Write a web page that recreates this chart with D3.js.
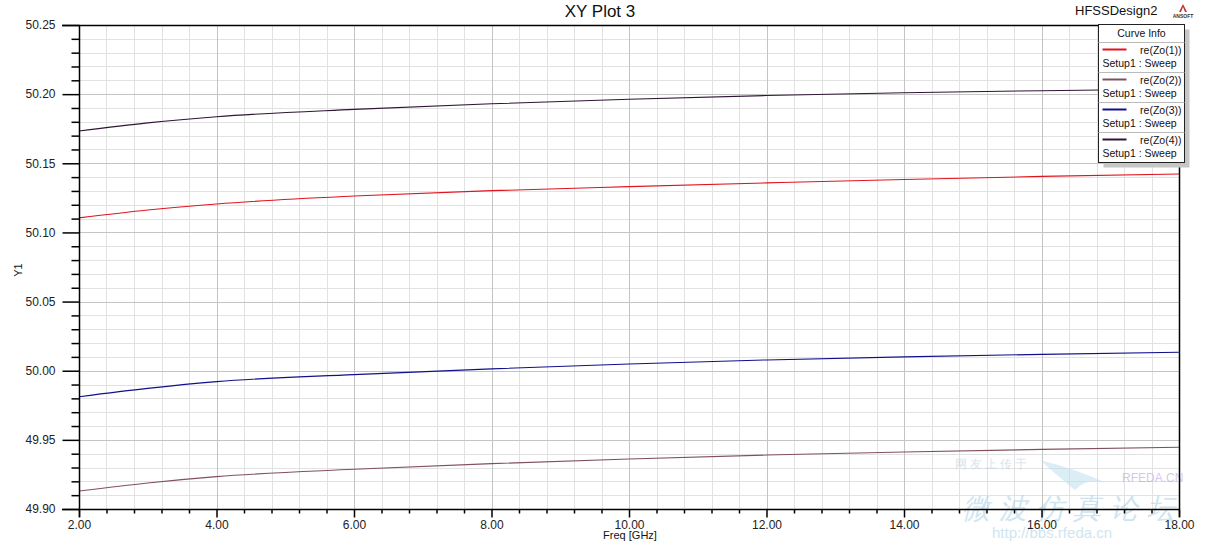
<!DOCTYPE html>
<html><head><meta charset="utf-8">
<script src="https://cdn.jsdelivr.net/npm/d3@7"></script>
<style>body{margin:0;background:#fff;} svg{display:block;} text{font-family:Arial,"Liberation Sans",sans-serif;}</style>
</head><body><svg id="c" width="1205" height="546"></svg>
<script>
const freq = [2, 3, 4, 6, 8, 10, 12, 14, 16, 18];
const zo1 = [50.1105, 50.1162, 50.1206, 50.1263, 50.1302, 50.1331, 50.1358, 50.1383, 50.1405, 50.1423];
const zo2 = [49.9130, 49.9188, 49.9234, 49.9287, 49.9328, 49.9362, 49.9390, 49.9412, 49.9431, 49.9447];
const zo3 = [49.9812, 49.9872, 49.9921, 49.9972, 50.0013, 50.0049, 50.0078, 50.0100, 50.0118, 50.0133];
const zo4 = [50.1733, 50.1792, 50.1837, 50.1890, 50.1930, 50.1963, 50.1990, 50.2010, 50.2025, 50.2037];
const seriesNames = ["re(Zo(1))", "re(Zo(2))", "re(Zo(3))", "re(Zo(4))"];
const xTicks = [2, 4, 6, 8, 10, 12, 14, 16, 18];
const yTicks = [49.90, 49.95, 50.00, 50.05, 50.10, 50.15, 50.20, 50.25];

const colors = ["#e0141e", "#80505f", "#10108c", "#301535"];
const series = [zo1, zo2, zo3, zo4];

const svg = d3.select("#c");
const L = 79, R = 1179, T = 25, B = 509;
const x = d3.scaleLinear().domain([2, 18]).range([L, R]);
const y = d3.scaleLinear().domain([49.90, 50.25]).range([B, T]);

// minor grid
const xMinor = d3.range(0, 41).map(i => 2 + i * 0.4);
const yMinor = d3.range(0, 36).map(i => 49.90 + i * 0.01);
const g = svg.append("g");
g.selectAll(".vx").data(xMinor).join("line")
  .attr("x1", d => Math.round(x(d)) + 0.5).attr("x2", d => Math.round(x(d)) + 0.5)
  .attr("y1", T).attr("y2", B).attr("stroke", "#e2e2e2").attr("stroke-width", 1);
g.selectAll(".hy").data(yMinor).join("line")
  .attr("y1", d => Math.round(y(d)) + 0.5).attr("y2", d => Math.round(y(d)) + 0.5)
  .attr("x1", L).attr("x2", R).attr("stroke", "#e2e2e2").attr("stroke-width", 1);
// major grid
g.selectAll(".vX").data(xTicks).join("line")
  .attr("x1", d => Math.round(x(d)) + 0.5).attr("x2", d => Math.round(x(d)) + 0.5)
  .attr("y1", T).attr("y2", B).attr("stroke", "#c4c4c4").attr("stroke-width", 1);
g.selectAll(".hY").data(yTicks).join("line")
  .attr("y1", d => Math.round(y(d)) + 0.5).attr("y2", d => Math.round(y(d)) + 0.5)
  .attr("x1", L).attr("x2", R).attr("stroke", "#c4c4c4").attr("stroke-width", 1);

// watermark (behind curves)
const wm = svg.append("g").attr("opacity", 0.55);
wm.append("text").attr("x", 955).attr("y", 468).attr("font-size", 12)
  .attr("font-family", "Noto Sans CJK SC").attr("fill", "#b8cde0").attr("letter-spacing", 3).text("网友上传于");
wm.append("text").attr("x", 1122).attr("y", 482).attr("font-size", 12)
  .attr("fill", "#b49bd8").text("RFEDA.CN");
wm.append("path").attr("d", "M1040,460 Q1080,470 1110,485 Q1090,475 1075,490 Q1060,478 1040,460 Z").attr("fill", "#bfe0ee");
wm.append("text").attr("x", 962).attr("y", 518).attr("font-size", 28)
  .attr("font-family", "Noto Sans CJK SC").attr("fill", "#a9cfe6").attr("letter-spacing", 9)
  .attr("font-style", "italic").text("微波仿真论坛");
wm.append("text").attr("x", 992).attr("y", 538).attr("font-size", 15)
  .attr("font-family", "DejaVu Sans Mono").attr("fill", "#a9cfe6").text("http://bbs.rfeda.cn");

// curves
const line = d3.line().x((d, i) => x(freq[i])).y(d => y(d)).curve(d3.curveMonotoneX);
svg.append("g").selectAll("path").data(series).join("path")
  .attr("d", d => line(d)).attr("fill", "none")
  .attr("stroke", (d, i) => colors[i]).attr("stroke-width", 1.1);

// axes frame
svg.append("line").attr("x1", 62).attr("x2", R + 0.5).attr("y1", T + 0.5).attr("y2", T + 0.5).attr("stroke", "#000").attr("stroke-width", 1.5);
svg.append("line").attr("x1", R + 0.5).attr("x2", R + 0.5).attr("y1", T).attr("y2", B + 8).attr("stroke", "#000").attr("stroke-width", 1.5);

const yAxis = d3.axisLeft(y).tickValues(yTicks).tickFormat(d3.format(".2f")).tickSize(17).tickPadding(7);
const ya = svg.append("g").attr("transform", `translate(${L + 0.5},0)`).call(yAxis);
ya.select(".domain").attr("stroke", "#000").attr("stroke-width", 1.5).attr("d", `M0,${T}V${B + 8}`);
ya.selectAll(".tick line").attr("stroke-width", 1.5);
ya.selectAll("text").attr("font-size", 12).attr("fill", "#222").attr("font-family", "Arial, Liberation Sans");
const yMin = svg.append("g").attr("transform", `translate(${L + 0.5},0)`)
  .call(d3.axisLeft(y).tickValues(yMinor.filter((d, i) => i % 5 !== 0)).tickSize(8).tickFormat(""));
yMin.select(".domain").remove();
yMin.selectAll(".tick line").attr("stroke-width", 1.5);

const xAxis = d3.axisBottom(x).tickValues(xTicks).tickFormat(d3.format(".2f")).tickSize(8).tickPadding(3);
const xa = svg.append("g").attr("transform", `translate(0,${B + 0.5})`).call(xAxis);
xa.select(".domain").attr("stroke", "#000").attr("stroke-width", 1.5).attr("d", `M62,0H${R}`);
xa.selectAll(".tick line").attr("stroke-width", 1.5);
xa.selectAll("text").attr("font-size", 12).attr("fill", "#222").attr("font-family", "Arial, Liberation Sans");
const xMin = svg.append("g").attr("transform", `translate(0,${B + 0.5})`)
  .call(d3.axisBottom(x).tickValues(xMinor.filter((d, i) => i % 5 !== 0)).tickSize(4).tickFormat(""));
xMin.select(".domain").remove();
xMin.selectAll(".tick line").attr("stroke-width", 1.5);

// titles
svg.append("text").attr("x", 600).attr("y", 17).attr("text-anchor", "middle").attr("font-size", 17).attr("fill", "#111").text("XY Plot 3");
svg.append("text").attr("x", 1075).attr("y", 15).attr("font-size", 13).attr("fill", "#111").text("HFSSDesign2");
svg.append("text").attr("x", 630).attr("y", 539).attr("text-anchor", "middle").attr("font-size", 11).attr("fill", "#111").text("Freq [GHz]");
svg.append("text").attr("transform", "translate(22,270) rotate(-90)").attr("text-anchor", "middle").attr("font-size", 11).attr("fill", "#111").text("Y1");

// ANSOFT logo
svg.append("path").attr("d", "M1183,4 L1179,12 L1187,12 Z").attr("fill", "#c03030");
svg.append("path").attr("d", "M1183,7 L1181,12 L1185,12 Z").attr("fill", "#fff");
svg.append("text").attr("x", 1183).attr("y", 18).attr("text-anchor", "middle").attr("font-size", 5).attr("font-weight", "bold").attr("fill", "#333").text("ANSOFT");

// legend
const lg = svg.append("g");
const lx = 1098.5, ly = 24.5, lw = 86, lh = 138;
lg.append("rect").attr("x", lx + 5).attr("y", ly + 5).attr("width", lw).attr("height", lh).attr("fill", "#c6c6c6");
lg.append("rect").attr("x", lx).attr("y", ly).attr("width", lw).attr("height", lh).attr("fill", "#fff").attr("stroke", "#222").attr("stroke-width", 1);
lg.append("text").attr("x", lx + lw / 2).attr("y", ly + 12.5).attr("text-anchor", "middle").attr("font-size", 10.5).attr("fill", "#111").text("Curve Info");
seriesNames.forEach((n, i) => {
  const top = ly + 18 + i * 30;
  lg.append("line").attr("x1", lx).attr("x2", lx + lw).attr("y1", top).attr("y2", top).attr("stroke", "#bbb");
  lg.append("line").attr("x1", lx + 4).attr("x2", lx + 28).attr("y1", top + 7).attr("y2", top + 7).attr("stroke", colors[i]).attr("stroke-width", 2);
  lg.append("text").attr("x", lx + lw - 3).attr("y", top + 11).attr("text-anchor", "end").attr("font-size", 10.5).attr("fill", "#111").text(n);
  lg.append("text").attr("x", lx + 4).attr("y", top + 24).attr("font-size", 10.5).attr("fill", "#111").text("Setup1 : Sweep");
});
</script></body></html>
